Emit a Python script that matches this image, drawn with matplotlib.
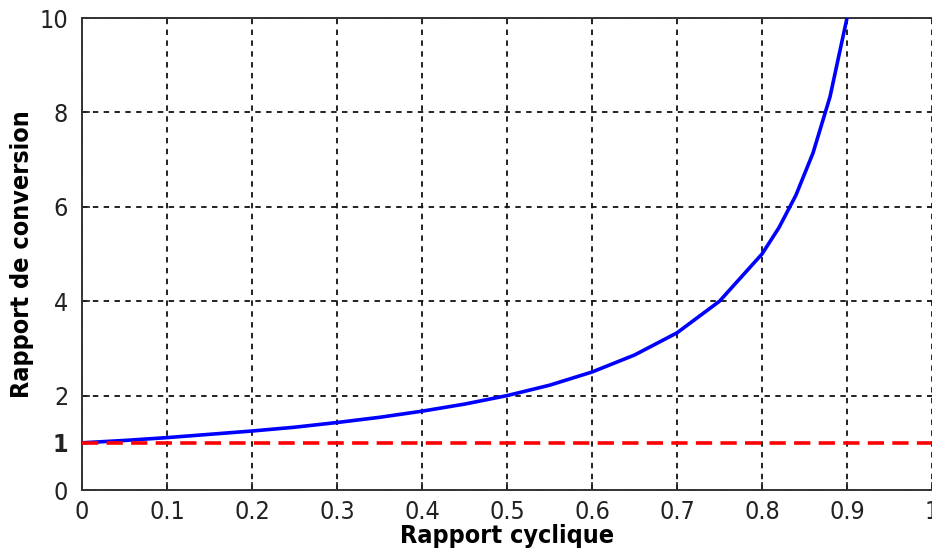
import matplotlib
matplotlib.use("Agg")
import matplotlib.pyplot as plt

plt.rcParams["font.family"] = ["DejaVu Sans"]
plt.rcParams["font.stretch"] = "condensed"

# Duty cycle vs. conversion ratio of the converter
duty_cycle = [0.0, 0.05, 0.10, 0.15, 0.20, 0.25, 0.30, 0.35, 0.40, 0.45, 0.50,
              0.55, 0.60, 0.65, 0.70, 0.75, 0.80, 0.82, 0.84, 0.86, 0.88, 0.90]
conversion_ratio = [1.00, 1.05, 1.11, 1.18, 1.25, 1.33, 1.43, 1.54, 1.67, 1.82, 2.00,
                    2.22, 2.50, 2.86, 3.33, 4.00, 5.00, 5.56, 6.25, 7.14, 8.33, 10.0]
reference_x = [0.0, 1.0]
reference_y = [1.0, 1.0]

x_ticks = [0, 0.1, 0.2, 0.3, 0.4, 0.5, 0.6, 0.7, 0.8, 0.9, 1]
x_tick_labels = ["0", "0.1", "0.2", "0.3", "0.4", "0.5", "0.6", "0.7", "0.8", "0.9", "1"]
y_ticks = [0, 1, 2, 4, 6, 8, 10]
y_tick_labels = ["0", "1", "2", "4", "6", "8", "10"]

fig = plt.figure(figsize=(9.32, 5.54), dpi=100, facecolor="white")
ax = fig.add_axes([0.088, 0.1155, 0.912, 0.852])

ax.plot(duty_cycle, conversion_ratio, color="#0000ff", lw=2.6, solid_joinstyle="round", zorder=3)
ax.plot(reference_x, reference_y, color="#ff0000", lw=2.6, dashes=(4.5, 2.3), zorder=3)

ax.set_xlim(0, 1)
ax.set_ylim(0, 10)
ax.set_xticks(x_ticks)
ax.set_xticklabels(x_tick_labels)
ax.set_yticks(y_ticks)
ax.set_yticklabels(y_tick_labels)
for lbl in ax.get_yticklabels():
    if lbl.get_text() == "1":
        lbl.set_fontweight("bold")

ax.tick_params(direction="in", length=6, width=1.2, labelsize=18, colors="#222222",
               top=False, right=False)
ax.tick_params(axis="x", pad=7)
ax.tick_params(axis="y", pad=10)

ax.grid(True, color="#111111", lw=1.3, dashes=(3, 3))
# the reference line sits on y=1; hide that grid line
for gl, t in zip(ax.get_ygridlines(), y_ticks):
    if t == 1:
        gl.set_visible(False)

for s in ["left", "bottom", "top"]:
    ax.spines[s].set_color("#333333")
    ax.spines[s].set_linewidth(1.4)
ax.spines["right"].set_visible(False)

ax.set_xlabel("Rapport cyclique", fontsize=18, fontweight="bold", labelpad=0)
ax.set_ylabel("Rapport de conversion", fontsize=18, fontweight="bold", labelpad=4)

fig.savefig("out.png", dpi=100, facecolor="white")
